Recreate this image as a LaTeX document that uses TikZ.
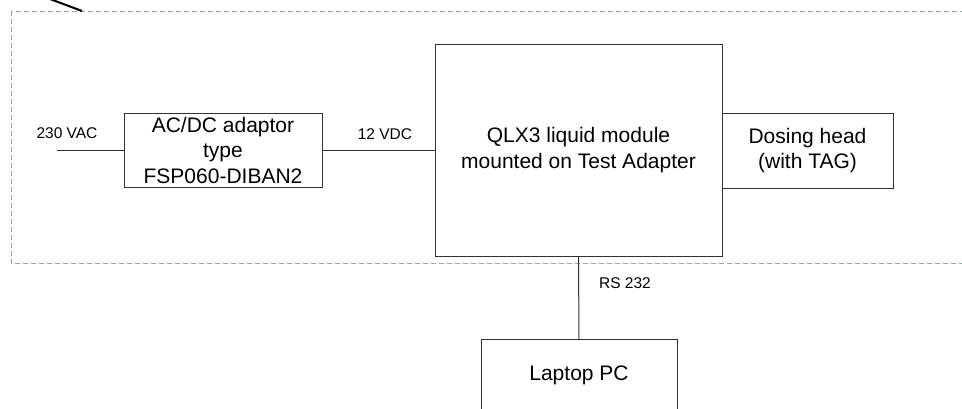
\documentclass[tikz,border=0pt]{standalone}
\usepackage{fontspec}
\setmainfont{Liberation Sans}
\newcommand*{\boxfont}{\fontsize{21}{25.5}\selectfont}
\newcommand*{\tagfont}{\fontsize{15.5}{18}\selectfont}
\definecolor{frame}{RGB}{50,50,50}
\definecolor{dashgrey}{RGB}{150,168,160}
\usetikzlibrary{positioning}
\tikzstyle{base}=[inner sep=0pt, outer sep=0pt, x=1pt, y=-1pt]
\tikzstyle{unit}=[draw=frame, line width=1pt, align=center, font=\boxfont]
\tikzstyle{wire}=[draw=frame, line width=1pt]
\tikzstyle{tag}=[font=\tagfont]

\begin{document}
\begin{tikzpicture}[base]
    \clip (0,0) rectangle (962,408);
    \path [use as bounding box] (0,0) rectangle (962,408);
        % test set-up boundary
        \draw [dashgrey, line width=1pt, dash pattern=on 5pt off 3pt] (11,11) rectangle (980,263);
        \coordinate (ptrtop) at (50,-1);
        \coordinate (ptrend) at (82,11);
        \draw [black, line width=2pt] (ptrtop) -- (ptrend);
        % units
        \node [unit, minimum width=198, minimum height=74] (adaptor) at (223,150) {AC/DC adaptor\\type\\FSP060-DIBAN2};
        \node [unit, minimum width=287, minimum height=212] (module) at (578.5,150) {QLX3 liquid module\\mounted on Test Adapter};
        \node [unit, minimum width=171, minimum height=75] (head) at (807.5,150.5) {Dosing head\\(with TAG)};
        \node [unit, minimum width=196, minimum height=72] (laptop) at (579,375) {Laptop PC};
        % wiring
        \coordinate (mains) at (57,150);
        \draw [wire] (mains) -- (adaptor.west);
        \draw [wire] (adaptor.east) -- (module.west);
        \draw [wire] (module.south) -- (laptop.north);
        \node [tag] (vac) at (67,133) {230 VAC};
        \node [tag] (vdc) at (385,134) {12 VDC};
        \node [tag] (rs) at (625,283) {RS 232};
    \end{tikzpicture}
\end{document}
